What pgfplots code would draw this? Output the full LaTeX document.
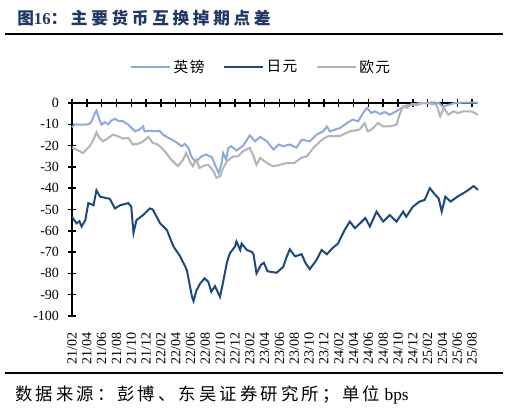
\documentclass[border=0pt]{standalone}
\usepackage{fontspec}
\setmainfont{Liberation Serif}
\newfontfamily\cjk[LetterSpace=22]{Noto Sans CJK SC}
\newfontfamily\cjks[LetterSpace=18]{Noto Sans CJK SC}
\newfontfamily\cjkl[LetterSpace=10]{Noto Sans CJK SC}
\usepackage{pgfplots}
\pgfplotsset{compat=1.18}
\definecolor{gbp}{RGB}{142,169,219}
\definecolor{jpy}{RGB}{31,73,125}
\definecolor{eur}{RGB}{180,180,180}
\definecolor{titleblue}{RGB}{31,56,100}

\pgfplotstableread{
m v
0 -11.4
0.4 -10
1.3 -10.2
2.2 -10
2.6 -9
3.1 -4.7
3.3 -3.6
3.7 -7.8
4.0 -10.2
4.4 -9
4.9 -10
5.3 -8.3
5.8 -7.4
6.2 -8.3
6.9 -8.6
7.6 -10.2
8.5 -13.3
9.1 -12.5
9.6 -11
9.8 -13.3
10.5 -13
11.2 -13.3
11.8 -13
12.3 -14.9
12.9 -16.1
13.9 -18
14.8 -20.3
15.2 -19.2
15.7 -21
16.1 -25
16.6 -27.4
17.0 -26.6
17.5 -25
18.1 -24.2
18.9 -25.5
19.3 -29
19.8 -32.9
20.2 -28.2
20.4 -23.5
20.8 -26.6
21.1 -21.1
21.5 -20.3
22.2 -22.3
23.1 -20
24.0 -15.2
24.7 -18
25.4 -15.9
26.3 -18
27.2 -21.9
27.9 -19.5
28.5 -20.3
29.4 -19.5
30.3 -21
31.0 -17.2
32.1 -18
33.0 -14.9
33.9 -13.3
34.4 -11
34.8 -13.3
35.5 -12.5
36.2 -11.7
37.1 -9.4
37.9 -7.8
38.6 -8.6
39.3 -4.7
39.8 -2.3
40.4 -4.7
40.9 -3.9
41.6 -5.2
42.2 -4.2
42.9 -5.5
43.6 -4.2
44.5 -2.3
45.2 -1.1
46.1 -0.8
46.9 0
47.8 0
48.7 0.3
49.5 0
50.0 -1.6
50.9 -0.8
51.7 0
53.1 0.2
54.5 0.2
54.8 0
}\gbpdata

\pgfplotstableread{
m v
0 -53.4
0.6 -56.5
1.0 -55.5
1.3 -58
1.8 -55
2.2 -47
2.9 -48
3.3 -41
3.8 -44
5.1 -45
5.8 -49.5
6.5 -48
7.6 -47
8.0 -48.7
8.3 -61
8.7 -55
9.6 -52.6
10.5 -49.5
10.9 -50
11.9 -56.5
12.8 -59.6
13.7 -67.4
14.6 -72
15.5 -78.4
16.2 -91
16.4 -93
16.8 -88
17.3 -84.7
17.9 -82.3
18.4 -84
18.8 -88.6
19.3 -86
19.98 -91
20.4 -84
20.9 -75
21.3 -70.6
22.0 -67.4
22.2 -65
22.7 -69
22.9 -66
23.6 -69
24.3 -70
24.5 -71
24.9 -80
25.5 -76
25.9 -75
26.4 -79
27.6 -79.7
28.5 -77
29.0 -72
29.4 -68.7
30.1 -72
31.0 -71
31.5 -75
32.1 -78
33.0 -73.7
33.7 -69
34.4 -71
35.2 -68
35.9 -66
36.8 -59.6
37.5 -55.7
38.2 -58.8
39.6 -54
40.2 -58
41.1 -51
42.0 -55.7
42.9 -52.6
43.8 -55.7
44.7 -51
45.1 -53.4
46.0 -48.7
46.9 -46.3
47.6 -45.5
48.3 -40
49.0 -43
49.5 -44.8
49.9 -51
50.4 -44
51.1 -46.3
52.0 -44
52.8 -42.4
53.5 -40.8
54.2 -39
54.8 -40.8
}\jpydata

\pgfplotstableread{
m v
0 -20.8
0.6 -21.9
1.5 -23.5
1.9 -21.9
2.4 -20.3
2.9 -17.2
3.3 -13.8
3.7 -16.4
4.2 -18
4.9 -16.4
5.5 -14.9
6.2 -15.6
6.9 -16.7
7.6 -16.4
8.2 -19.5
8.9 -19.2
9.6 -18
10.3 -15.9
10.9 -18.7
11.6 -19.5
12.5 -22.6
13.4 -26.6
14.3 -29.7
15.0 -26.6
15.4 -23.5
15.9 -27.4
16.3 -29.7
16.8 -26.6
17.2 -30.5
18.1 -29
18.4 -29
19.1 -32
19.5 -35.2
20.0 -34.4
20.4 -30.5
20.9 -27.4
21.8 -25
22.4 -25
23.1 -22.6
24.0 -21
24.5 -25
24.9 -29
25.4 -25.8
26.3 -28.2
27.2 -29.7
28.1 -29
29.0 -28.2
30.0 -28.2
30.9 -25.8
31.7 -25
32.6 -21
33.5 -18
34.1 -16.4
34.6 -15.6
35.3 -15.6
36.2 -15.4
37.5 -13.3
38.8 -12.5
39.5 -9.4
39.9 -13.3
40.4 -12.5
41.3 -9.4
42.0 -11
42.9 -11
43.8 -10.2
44.2 -5.5
44.7 -1.6
45.2 -2.3
45.9 -0.3
46.5 -1
47.4 0
48.3 -0.3
49.2 -0.8
49.7 -6.3
50.2 -2.3
50.8 -5.5
51.5 -3.9
52.1 -4.7
52.8 -3.9
53.7 -3.9
54.1 -4.2
54.8 -5.5
}\eurdata

\begin{document}
\begin{tikzpicture}[x=0.75pt,y=0.75pt]
\path[use as bounding box] (0,0) rectangle (509,415);
\node[anchor=west,inner sep=0,text=titleblue,font=\bfseries\fontsize{12.5}{14}\selectfont] at (17,397) {{\cjk 图}16{\cjk ：主要货币互换掉期点差}};
\draw[line width=1.5pt] (5,381) -- (503,381);
\draw[line width=1.5pt] (5,42) -- (503,42);
\node[anchor=west,inner sep=0,font=\fontsize{13}{15}\selectfont] at (15,20) {{\cjks 数据来源：彭博、东吴证券研究所；单位} bps};

\begin{axis}[
  at={(54pt,74.25pt)}, anchor=south west,
  scale only axis, width=304.5pt, height=159.75pt,
  xmin=0, xmax=54.8, ymin=-100, ymax=0,
  axis x line=top, axis y line=left,
  axis line style={-, line width=1.1pt},
  tick style={black, line width=1.1pt},
  tick align=center, major tick length=6.5pt,
  xtick={0,2,...,54},
  xticklabels={21/02,21/04,21/06,21/08,21/10,21/12,22/02,22/04,22/06,22/08,22/10,22/12,23/02,23/04,23/06,23/08,23/10,23/12,24/02,24/04,24/06,24/08,24/10,24/12,25/02,25/04,25/06,25/08},
  ytick={0,-10,...,-100},
  /pgf/number format/assume math mode=true,
  ticklabel style={font=\fontsize{10.5}{12}\selectfont},
  xticklabel style={rotate=90, anchor=east},
  xticklabel shift=-172pt,
  yticklabel style={xshift=-3pt},
  legend columns=3,
  legend style={at={(0.467,1.169)}, anchor=center, draw=none, fill=none,
    font=\cjkl\fontsize{11}{13}\selectfont,
    /tikz/every even column/.append style={column sep=12pt}},
  legend image code/.code={\draw[#1] (0pt,0pt) -- (29pt,0pt);},
  clip=false,
]
\addplot[gbp, line width=1.5pt] table[x=m,y=v] {\gbpdata};
\addlegendentry{英镑}
\addplot[jpy, line width=1.5pt] table[x=m,y=v] {\jpydata};
\addlegendentry{日元}
\addplot[eur, line width=1.5pt] table[x=m,y=v] {\eurdata};
\addlegendentry{欧元}
\end{axis}
\end{tikzpicture}
\end{document}
